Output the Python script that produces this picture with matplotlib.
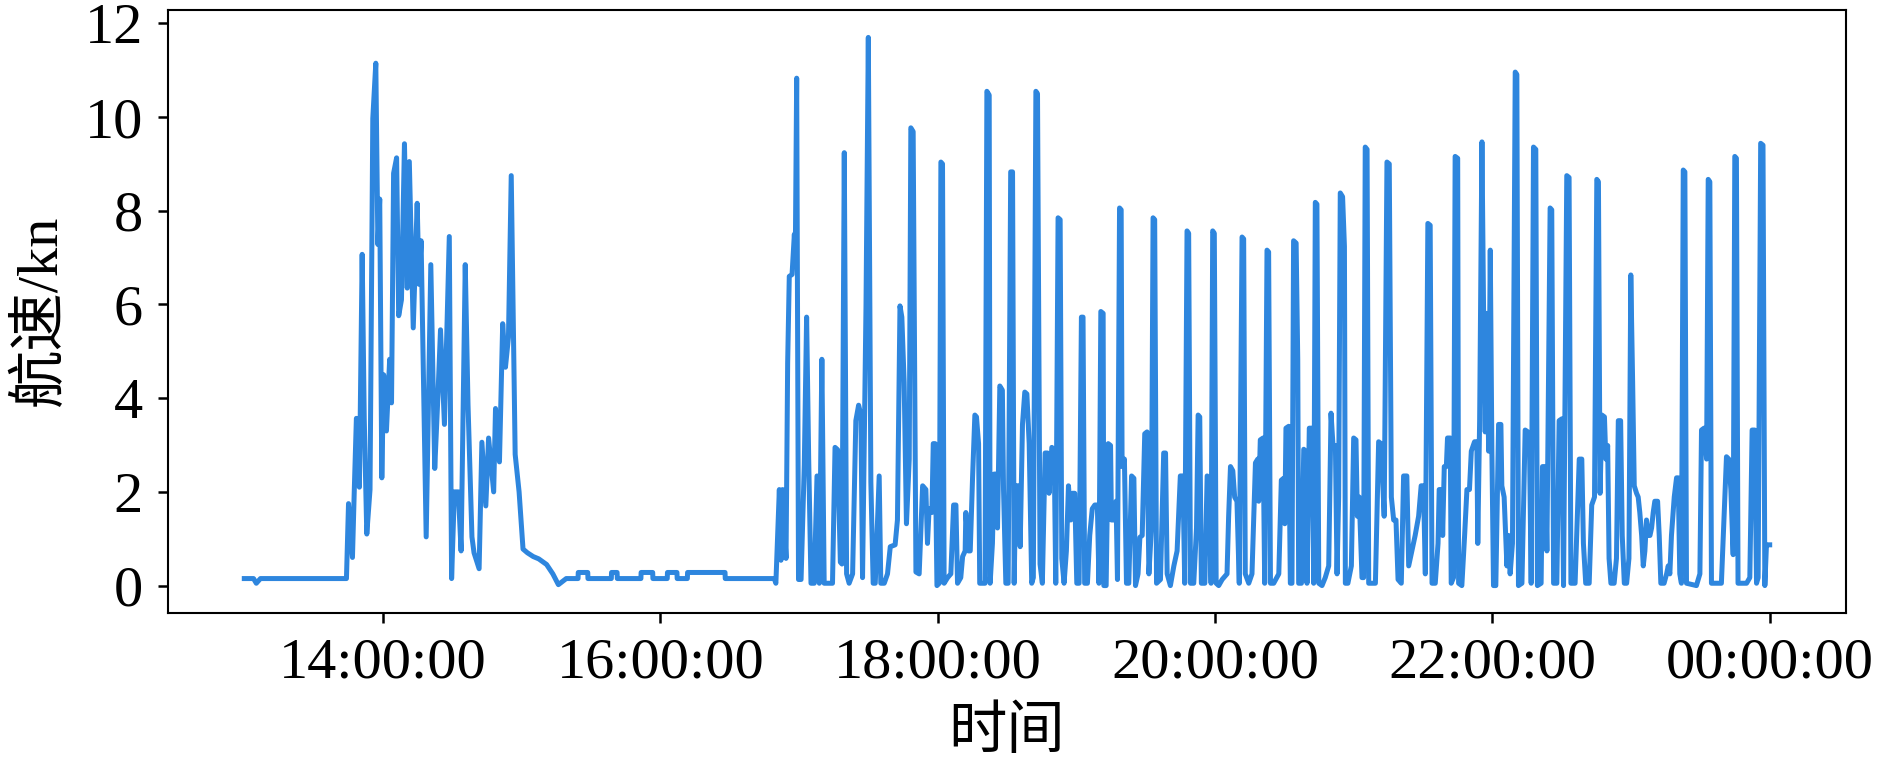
import pandas as pd
import matplotlib
matplotlib.use('Agg')
import matplotlib.pyplot as plt
import matplotlib.dates as mdates
from matplotlib.ticker import MultipleLocator
from matplotlib import font_manager as fm


# Speed log: minutes after 13:00 and speed in knots
START = '2023-01-01 13:00:00'

MINUTES = [
    0, 4, 5.2, 7, 44.2, 45.1, 46.8, 47.6, 48.5, 49.8, 51.0, 51.9, 53.0, 54.4, 55.6, 56.9,
    57.8, 58.6, 59.5, 60.3, 61.5, 62.9, 63.7, 64.6, 65.9, 66.8, 68.0, 69.3, 70.5, 71.4,
    73.1, 74.8, 75.6, 76.5, 77.3, 78.7, 80.7, 82.4, 83.8, 84.9, 86.6, 88.7, 89.7, 90.9,
    92.6, 93.8, 95.6, 96.8, 98.5, 99.4, 101.6, 102.8, 104.5, 105.7, 107.9, 108.7, 110.4,
    111.8, 113.0, 114.3, 115.5, 117.2, 118.9, 120.6, 122.5, 125.0, 127.4, 130.8, 133.5, 135.9, 139.3, 144.4,
    144.5, 148.6, 148.7, 158.8, 158.9, 161.3, 161.4, 171.6, 171.7, 176.7, 176.8, 183.0,
    183.1, 187.2, 187.3, 191.7, 191.8, 208.0, 208.1, 229.3, 230.0,
    231.5, 232.2, 232.9, 234.4, 235.1, 235.8, 237.0, 238.0, 238.4, 239.0, 239.8, 240.9,
    242.3, 243.3, 244.2, 245.2, 246.6, 247.8, 248.8, 249.9, 250.9, 254.5, 255.6, 256.7,
    257.9, 258.6, 259.6, 260.6, 261.7, 263.2, 264.6, 265.8, 266.8, 267.5, 269.0, 270.0,
    271.1, 272.1, 273.0, 274.7, 275.4, 276.9, 278.3, 279.5, 281.6, 282.6, 283.7, 284.5,
    285.5, 286.5, 287.7, 288.4, 289.4, 290.6, 292.0, 293.5, 294.9,
    295.6, 296.3, 297.5, 298.1, 298.9, 299.7, 300.7, 301.4, 302.1, 302.8, 304.3, 305.7,
    306.9, 307.9, 308.6, 310.0, 310.8, 311.9, 312.2, 313.3, 314.1, 315.1, 316.1, 316.8,
    317.7, 318.2, 320.5, 321.3, 322.3, 322.7, 323.7, 324.4, 325.4, 325.9, 326.9, 328.0,
    328.5, 329.5, 330.5, 331.6, 332.4, 333.1, 333.8, 335.0, 335.7, 336.7, 337.7, 338.6,
    339.6, 340.7, 341.4, 342.5, 343.2, 344.3, 345.3, 346.5, 347.5, 348.2, 349.4, 350.4,
    351.1, 352.1, 353.0, 353.7, 354.7, 355.7, 356.6, 357.6, 358.3, 359.3, 360.2, 361.2,
    362.2, 362.9, 363.6, 364.8, 365.8, 366.9, 368.0, 369.1, 369.8, 370.6, 371.6, 371.9,
    372.9,
    373.8, 374.8, 375.2, 376.2, 377.2, 377.8, 378.7, 379.4, 379.8, 380.8, 381.7, 382.7,
    383.9, 384.9, 385.6, 386.7, 387.5, 388.5, 389.6, 390.6, 391.4, 392.5, 393.2, 393.9,
    394.7, 396.4, 397.8, 398.6, 399.3, 400.7, 402.2, 403.6, 405.0, 406.1, 406.9, 407.9,
    408.6, 409.4, 410.8, 412.0, 412.7, 413.4, 414.1, 415.6, 416.6, 417.3, 418.3, 419.0,
    419.7, 420.5, 421.6, 423.1, 425.2, 425.9, 426.7, 427.7, 428.5, 429.5, 430.5, 431.7,
    432.4, 433.1, 434.6, 436.0, 437.5, 438.5, 438.9, 439.6, 440.8, 441.5, 442.5, 443.2,
    444.0,
    445.4, 447.6, 448.7, 449.7, 450.2, 450.7, 451.9, 452.6, 453.3, 454.0, 455.1, 455.8,
    456.2, 457.4, 458.4, 459.1, 459.8, 460.8, 462.0, 462.7, 463.4, 464.1, 464.9, 466.3,
    467.7, 469.2, 470.2, 471.1, 472.1, 472.8, 473.5, 474.2, 475.2, 476.0, 476.4, 477.5,
    479.0, 480.0, 481.0, 481.6, 482.4, 483.6, 484.3, 485.0, 485.8, 486.5, 489.4, 490.8,
    491.8, 492.5, 493.2, 494.4, 495.4, 496.3, 497.3, 498.3, 499.2, 500.6, 501.6, 503.0,
    503.8, 505.2, 506.6, 508.1, 509.2, 510.2, 511.0, 512.1, 513.1, 513.9, 515.3,
    516.5, 517.0, 518.2, 518.5, 519.2, 520.1, 520.6, 521.8, 522.2, 523.2, 523.9, 525.0,
    525.4, 526.8, 528.0, 529.0, 530.1, 530.9, 532.3, 533.3, 533.7, 534.5, 535.5, 536.2,
    536.9, 537.6, 538.4, 539.1, 539.8, 540.5, 541.5, 542.7, 543.7, 544.1, 545.1, 546.3,
    547.0, 547.7, 548.7, 549.9, 550.6, 551.3, 552.8, 554.2, 555.4, 556.1, 556.8, 557.8,
    558.8, 559.5, 561.1, 561.7, 562.9, 563.6, 565.0, 565.7, 566.5, 567.9, 568.9, 570.1,
    570.8, 572.2, 573.2, 574.0, 575.8, 577.6, 578.7, 579.4, 580.4, 581.9, 583.0, 584.2,
    585.2, 585.9, 586.6, 587.4, 588.5, 589.1, 589.9, 590.5,
    591.3, 592.7, 593.7, 594.5, 595.5, 596.2, 597.1, 598.1, 599.1, 599.9, 600.7, 601.4,
    602.4, 603.1, 603.8, 604.6, 605.3, 606.0, 606.7, 607.4, 608.2, 608.9, 609.6, 610.3,
    611.5, 612.2, 612.9, 614.3, 615.4, 616.1, 616.8, 617.5, 618.7, 619.7, 620.4, 621.1,
    621.8, 622.6, 623.3, 624.0, 628.3, 629.8, 630.5, 631.6, 632.7, 633.4, 634.1, 634.8,
    639.1, 640.6, 641.3, 642.3, 643.2, 644.2, 644.9, 645.6, 646.3, 650.0, 651.4, 652.4,
    653.5, 654.3, 655.0, 656.1, 657.1, 657.9, 658.6, 660.0,
]

SPEED = [
    0.15, 0.15, 0.05, 0.15, 0.15, 1.75, 0.6, 2.05, 3.57, 2.1, 7.07, 3.57, 1.1, 2.05, 9.97, 11.15,
    7.28, 8.25, 2.3, 4.5, 3.3, 4.83, 3.9, 8.8, 9.13, 5.76, 6.1, 9.43, 6.35, 9.05,
    5.5, 8.16, 6.43, 7.36, 5.08, 1.04, 6.85, 2.5, 4.07, 5.46, 3.44, 7.45, 0.15, 2.0,
    2.0, 0.74, 6.85, 3.86, 1.04, 0.7, 0.36, 3.06, 1.7, 3.15, 2.0, 3.78, 2.64,
    5.59, 4.66, 5.3, 8.75, 2.8, 2.0, 0.78, 0.7, 0.62, 0.57, 0.45, 0.25, 0.02, 0.15, 0.15,
    0.28, 0.28, 0.15, 0.15, 0.28, 0.28, 0.15, 0.15, 0.28, 0.28, 0.15, 0.15,
    0.28, 0.28, 0.15, 0.15, 0.28, 0.28, 0.15, 0.15, 0.05,
    2.05, 0.54, 2.05, 0.58, 4.75, 6.6, 6.64, 7.5, 7.0, 10.83, 0.13, 0.13,
    2.58, 5.73, 2.7, 0.05, 0.05, 2.34, 0.05, 4.83, 0.05, 0.05, 2.95, 2.9,
    0.5, 0.46, 9.24, 0.25, 0.05, 0.25, 3.52, 3.85, 3.64, 0.17, 5.97, 11.7,
    2.21, 0.05, 0.05, 2.34, 0.05, 0.05, 0.25, 0.83, 0.87, 1.4, 5.97, 5.73,
    4.34, 1.32, 2.7, 9.77, 9.69, 0.29, 0.25, 2.13, 2.05,
    0.9, 1.64, 1.56, 3.03, 3.03, 0.0, 0.05, 9.04, 9.0, 0.05, 0.17, 0.25,
    1.72, 1.72, 0.05, 0.17, 0.62, 0.74, 1.56, 0.74, 0.74, 2.3, 3.64, 3.6,
    3.03, 0.05, 0.05, 10.55, 10.47, 0.05, 0.9, 2.38, 2.38, 1.23, 4.26, 4.17,
    2.05, 0.05, 0.05, 8.83, 8.83, 0.05, 2.13, 2.13, 0.83, 3.44, 4.13, 4.09,
    3.03, 0.05, 0.17, 10.55, 10.5, 0.46, 0.05, 2.83, 2.83, 1.97, 2.95, 2.9,
    0.05, 7.85, 7.81, 0.58, 0.05, 0.74, 2.13, 1.4, 1.97, 1.97, 0.05, 0.05,
    5.73, 5.73, 0.05, 0.05, 1.07, 1.64, 1.72, 1.72, 0.05, 5.85, 5.81, 0.0,
    0.0,
    3.03, 2.99, 1.4, 1.4, 1.8, 0.13, 8.06, 8.02, 2.54, 2.7, 0.05, 0.05,
    2.34, 2.29, 0.0, 0.25, 1.03, 1.07, 3.24, 3.28, 0.25, 1.23, 7.85, 7.81,
    0.05, 0.13, 2.83, 2.83, 0.25, 0.0, 0.42, 0.74, 2.34, 2.34, 0.05, 7.57,
    7.52, 0.05, 0.05, 1.23, 3.64, 3.6, 0.05, 0.05, 2.34, 2.29, 0.05, 7.57,
    7.52, 0.05, 0.0, 0.13, 0.25, 1.48, 2.54, 2.45, 1.89, 1.8, 0.05, 7.44,
    7.4, 0.25, 0.05, 0.25, 2.62, 2.7, 1.8, 3.11, 3.15, 0.05, 7.16, 7.12,
    0.05,
    0.05, 0.25, 2.25, 2.29, 1.32, 3.36, 3.4, 0.05, 0.05, 7.36, 7.31, 4.83,
    0.05, 0.05, 2.91, 2.87, 0.05, 3.36, 3.36, 0.05, 8.18, 8.14, 0.05, 0.0,
    0.17, 0.42, 3.68, 2.95, 2.99, 0.25, 1.89, 8.38, 8.3, 7.24, 0.05, 0.05,
    0.42, 3.15, 3.11, 1.48, 1.89, 0.17, 0.17, 9.36, 9.31, 0.05, 0.05, 3.07,
    3.03, 2.29, 1.48, 9.04, 9.0, 1.89, 1.4, 1.4, 0.13, 0.05, 2.34, 2.34,
    0.42, 0.74, 1.07, 1.48, 2.13, 2.13, 0.25, 7.73, 7.69, 0.05, 0.05,
    0.9, 2.05, 2.05, 1.07, 2.54, 2.54, 3.15, 3.15, 0.05, 0.17, 9.16, 9.12,
    0.05, 0.0, 1.07, 2.05, 2.05, 2.87, 3.07, 3.07, 0.9, 3.52, 9.47, 5.89,
    3.28, 5.81, 2.87, 7.16, 2.87, 0.0, 0.0, 3.44, 3.44, 2.13, 1.89, 0.42,
    1.07, 0.25, 0.9, 10.96, 10.91, 0.0, 0.05, 3.32, 3.28, 2.87, 0.05, 9.36,
    9.31, 0.0, 0.05, 2.54, 2.54, 0.74, 8.06, 8.02, 0.05, 0.05, 3.52, 3.56,
    0.0, 8.75, 8.71, 0.05, 0.05, 2.7, 2.7, 0.9, 0.05, 0.05, 1.72, 1.89,
    8.67, 8.62, 1.97, 3.64, 3.6, 2.7, 2.99, 0.58,
    0.05, 0.05, 0.58, 3.52, 3.52, 1.07, 0.05, 0.05, 0.58, 6.63, 4.34, 2.13,
    1.97, 1.89, 1.56, 1.07, 0.42, 0.74, 1.4, 1.07, 1.07, 1.23, 1.56, 1.8,
    1.8, 1.07, 0.05, 0.05, 0.25, 0.42, 0.25, 1.07, 1.89, 2.3, 2.3, 0.25,
    0.05, 8.87, 8.83, 0.05, 0.0, 0.25, 3.32, 3.36, 2.7, 8.67, 8.62, 0.05,
    0.05, 1.89, 2.75, 2.7, 2.05, 0.66, 9.16, 9.12, 0.05, 0.05, 0.17, 3.32,
    3.32, 0.05, 0.17, 9.44, 9.4, 0.0, 0.87, 0.87,
]

times = pd.Timestamp(START) + pd.to_timedelta(MINUTES, unit='min')

# make sure the Times-like face is really there
fm.findfont(fm.FontProperties(family='Liberation Serif'), fallback_to_default=False)

plt.rcParams['font.family'] = ['Liberation Serif', 'Noto Sans CJK SC']
plt.rcParams['font.size'] = 14

fig = plt.figure(figsize=(6.3, 2.55), dpi=300)
ax = fig.add_axes([0.0889, 0.1987, 0.8878, 0.7882])

ax.plot(times, SPEED, color='#2e86de', linewidth=1.2)

ax.xaxis.set_major_locator(mdates.HourLocator(interval=2))
ax.xaxis.set_major_formatter(mdates.DateFormatter('%H:%M:%S'))
ax.yaxis.set_major_locator(MultipleLocator(2))
ax.tick_params(length=2.5, width=0.6, pad=3.5)
for s in ax.spines.values():
    s.set_linewidth(0.5)

ax.set_xlabel('时间', labelpad=4)
ax.set_ylabel('航速/kn', labelpad=4)

fig.savefig('out.png', dpi=300)
